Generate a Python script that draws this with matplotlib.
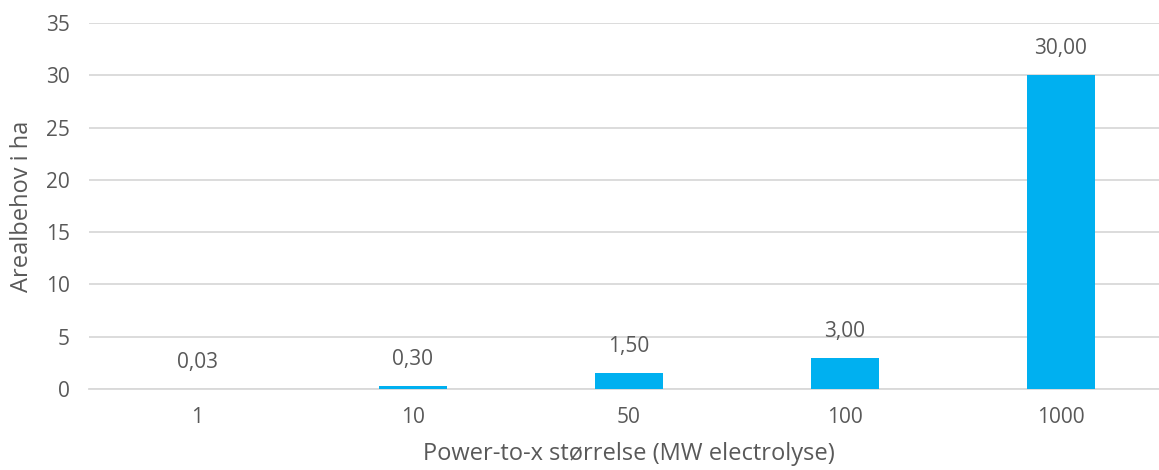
import matplotlib
matplotlib.use("Agg")
import matplotlib.pyplot as plt

# --- Data ---
categories = ["1", "10", "50", "100", "1000"]
values = [0.03, 0.30, 1.50, 3.00, 30.00]
y_ticks = [0, 5, 10, 15, 20, 25, 30, 35]

BAR_COLOR = "#00B0F0"
TEXT_COLOR = "#595959"
GRID_COLOR = "#D9D9D9"

plt.rcParams["font.family"] = ["Open Sans", "DejaVu Sans"]

fig = plt.figure(figsize=(11.59, 4.70), dpi=100)
# plot area runs past the right edge, as in the reference
ax = fig.add_axes([0.0768, 0.1723, 0.9318, 0.7787])

x = range(len(categories))
ax.bar(x, values, width=0.315, color=BAR_COLOR, zorder=3)

# Value labels above bars
for xi, v in zip(x, values):
    ax.annotate(f"{v:.2f}".replace(".", ","), xy=(xi, v), xytext=(0, 19),
                textcoords="offset points", ha="center", va="center",
                fontsize=15, color=TEXT_COLOR)

ax.set_xlim(-0.5, len(categories) - 0.5)
ax.set_ylim(0, 35)
ax.set_yticks(y_ticks)
ax.set_xticks(list(x))
ax.set_xticklabels(categories)

ax.grid(axis="y", color=GRID_COLOR, linewidth=1.3, zorder=0)
for side in ("top", "right", "left"):
    ax.spines[side].set_visible(False)
ax.spines["bottom"].set_color(GRID_COLOR)
ax.spines["bottom"].set_linewidth(1.3)
ax.tick_params(axis="both", length=0, labelsize=15, colors=TEXT_COLOR)
ax.tick_params(axis="x", pad=13)
ax.tick_params(axis="y", pad=14)

ax.set_xlabel("Power-to-x størrelse (MW electrolyse)", fontsize=17, color=TEXT_COLOR, labelpad=10)
ax.set_ylabel("Arealbehov i ha", fontsize=17, color=TEXT_COLOR, labelpad=8)

fig.savefig("out.png", dpi=100)
plt.close(fig)
